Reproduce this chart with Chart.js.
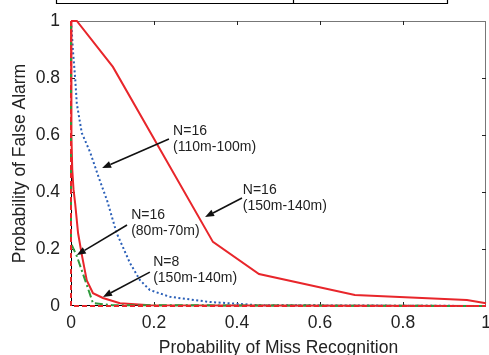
<!DOCTYPE html>
<html>
<head>
<meta charset="utf-8">
<title>Probability of False Alarm vs Miss Recognition</title>
<script src="https://cdn.jsdelivr.net/npm/chart.js@4.4.0/dist/chart.umd.min.js"></script>
<style>
  html, body { margin: 0; padding: 0; background: #fff; }
  #wrap { position: relative; width: 489px; height: 355px; overflow: hidden; }
</style>
</head>
<body>
<div id="wrap"><canvas id="roc" width="489" height="355"></canvas></div>
<script>
// tick values on both axes
var xTicks = [0, 0.2, 0.4, 0.6, 0.8, 1];
var yTicks = [0, 0.2, 0.4, 0.6, 0.8, 1];

// N=16 (150m-140m)  - red solid, outer curve
var n16far_x = [0, 0.014, 0.101, 0.342, 0.453, 0.684, 0.954, 1];
var n16far_y = [1, 1, 0.839, 0.225, 0.112, 0.039, 0.021, 0.01];

// N=16 (110m-100m)  - blue dotted
var n16mid_x = [0, 0.002, 0.005, 0.01, 0.014, 0.026, 0.046, 0.067, 0.087, 0.11, 0.142, 0.166, 0.19, 0.239, 0.335, 0.45, 1];
var n16mid_y = [1, 0.96, 0.89, 0.80, 0.71, 0.607, 0.54, 0.45, 0.37, 0.256, 0.151, 0.091, 0.056, 0.032, 0.014, 0.003, 0];

// N=8 (150m-140m)  - red solid, inner curve
var n8far_x = [0, 0.001, 0.003, 0.006, 0.01, 0.017, 0.026, 0.038, 0.053, 0.077, 0.118, 0.19, 1];
var n8far_y = [1, 0.6, 0.48, 0.41, 0.36, 0.256, 0.18, 0.09, 0.045, 0.028, 0.01, 0.003, 0];

// N=16 (80m-70m)  - green dash-dot
var n16near_x = [0, 0, 0.014, 0.034, 0.053, 0.1, 1];
var n16near_y = [1, 0.22, 0.175, 0.091, 0.01, 0.003, 0];

// ideal curve along the axes - red dashed
var ideal_x = [0, 0, 1];
var ideal_y = [1, 0, 0];

function pts(xs, ys) {
    return xs.map(function(x, i) { return { x: x, y: ys[i] }; });
}

// text notes with arrows (data coordinates)
var notes = [
    { text: ['N=16', '(110m-100m)'], at: [0.246, 0.614], from: [0.236, 0.586], to: [0.075, 0.484] },
    { text: ['N=16', '(150m-140m)'], at: [0.414, 0.407], from: [0.412, 0.379], to: [0.323, 0.312] },
    { text: ['N=16', '(80m-70m)'],   at: [0.145, 0.319], from: [0.135, 0.284], to: [0.014, 0.179] },
    { text: ['N=8', '(150m-140m)'],  at: [0.198, 0.154], from: [0.19, 0.119],  to: [0.077, 0.032] }
];

var RED = '#e8262b', BLUE = '#2a5fb8', GREEN = '#2f9a3c';
var FONT = "'Liberation Sans', Arial, Helvetica, sans-serif";

// matlab-like box, inward ticks and the cut-off box at the top edge
var framePlugin = {
    id: 'frame',
    beforeDatasetsDraw: function(chart) {
        var ctx = chart.ctx, a = chart.chartArea;
        var xs = chart.scales.x, ys = chart.scales.y;
        ctx.save();
        ctx.lineWidth = 1;
        ctx.strokeStyle = '#777';
        ctx.beginPath();
        ctx.moveTo(a.left, a.top + 0.5); ctx.lineTo(a.right, a.top + 0.5);
        ctx.moveTo(a.right - 0.5, a.top); ctx.lineTo(a.right - 0.5, a.bottom);
        ctx.stroke();
        ctx.strokeStyle = '#000';
        ctx.beginPath();
        ctx.moveTo(a.left + 0.5, a.top); ctx.lineTo(a.left + 0.5, a.bottom);
        ctx.moveTo(a.left, a.bottom - 0.5); ctx.lineTo(a.right, a.bottom - 0.5);
        ctx.stroke();
        ctx.strokeStyle = '#222';
        ctx.beginPath();
        xTicks.slice(1, -1).forEach(function(v) {
            var px = Math.round(xs.getPixelForValue(v)) + 0.5;
            ctx.moveTo(px, a.top); ctx.lineTo(px, a.top + 4);
            ctx.moveTo(px, a.bottom); ctx.lineTo(px, a.bottom - 4);
        });
        yTicks.slice(1, -1).forEach(function(v) {
            var py = Math.round(ys.getPixelForValue(v)) + 0.5;
            ctx.moveTo(a.left, py); ctx.lineTo(a.left + 4, py);
            ctx.moveTo(a.right, py); ctx.lineTo(a.right - 4, py);
        });
        ctx.stroke();
        // bottom of a box cropped off the top of the figure
        ctx.strokeStyle = '#000';
        ctx.lineWidth = 1.2;
        ctx.beginPath();
        ctx.moveTo(56.5, 0); ctx.lineTo(56.5, 3.5); ctx.lineTo(447.5, 3.5); ctx.lineTo(447.5, 0);
        ctx.moveTo(293.5, 0); ctx.lineTo(293.5, 3.5);
        ctx.stroke();
        ctx.restore();
    },
    afterDatasetsDraw: function(chart) {
        var ctx = chart.ctx;
        var xs = chart.scales.x, ys = chart.scales.y;
        ctx.save();
        ctx.fillStyle = '#222';
        ctx.strokeStyle = '#111';
        ctx.font = '14px ' + FONT;
        ctx.textBaseline = 'middle';
        ctx.textAlign = 'left';
        notes.forEach(function(n) {
            var tx = xs.getPixelForValue(n.at[0]), ty = ys.getPixelForValue(n.at[1]);
            n.text.forEach(function(t, i) { ctx.fillText(t, tx, ty + i * 16); });
            var x0 = xs.getPixelForValue(n.from[0]), y0 = ys.getPixelForValue(n.from[1]);
            var x1 = xs.getPixelForValue(n.to[0]), y1 = ys.getPixelForValue(n.to[1]);
            var ang = Math.atan2(y1 - y0, x1 - x0);
            var hl = 9, hw = 3.5;
            var bx = x1 - hl * Math.cos(ang), by = y1 - hl * Math.sin(ang);
            ctx.lineWidth = 1.6;
            ctx.beginPath();
            ctx.moveTo(x0, y0); ctx.lineTo(bx, by);
            ctx.stroke();
            ctx.beginPath();
            ctx.moveTo(x1, y1);
            ctx.lineTo(bx + hw * Math.sin(ang), by - hw * Math.cos(ang));
            ctx.lineTo(bx - hw * Math.sin(ang), by + hw * Math.cos(ang));
            ctx.closePath();
            ctx.fillStyle = '#111';
            ctx.fill();
            ctx.fillStyle = '#222';
        });
        ctx.restore();
    }
};

var ctx = document.getElementById('roc').getContext('2d');
var rocChart = new Chart(ctx, {
    type: 'scatter',
    data: {
        datasets: [
            { label: 'ideal', data: pts(ideal_x, ideal_y), borderColor: RED, borderWidth: 2, borderDash: [5, 3] },
            { label: 'N=16 (80m-70m)', data: pts(n16near_x, n16near_y), borderColor: GREEN, borderWidth: 2, borderDash: [8, 3, 2, 3] },
            { label: 'N=8 (150m-140m)', data: pts(n8far_x, n8far_y), borderColor: RED, borderWidth: 2 },
            { label: 'N=16 (110m-100m)', data: pts(n16mid_x, n16mid_y), borderColor: BLUE, borderWidth: 2, borderDash: [2, 2.5] },
            { label: 'N=16 (150m-140m)', data: pts(n16far_x, n16far_y), borderColor: RED, borderWidth: 2 }
        ]
    },
    options: {
        responsive: false,
        animation: false,
        devicePixelRatio: 1,
        showLine: true,
        elements: {
            point: { radius: 0, hoverRadius: 0 },
            line: { tension: 0, fill: false }
        },
        datasets: { scatter: { clip: false } },
        layout: { padding: { top: 21, right: 3, left: 0, bottom: 0 } },
        plugins: {
            legend: { display: false },
            tooltip: { enabled: false }
        },
        scales: {
            x: {
                type: 'linear', min: 0, max: 1,
                grid: { display: false, drawTicks: false },
                border: { display: false },
                afterBuildTicks: function(s) { s.ticks = xTicks.map(function(v) { return { value: v }; }); },
                ticks: {
                    padding: 7, color: '#222',
                    font: { family: FONT, size: 17.5 },
                    callback: function(v) { return String(v); }
                },
                title: {
                    display: true, text: 'Probability of Miss Recognition', color: '#222',
                    font: { family: FONT, size: 17.5, lineHeight: 1 },
                    padding: { top: 0, bottom: -2 }
                },
                afterFit: function(s) { s.height = 49; s.paddingLeft = 0; s.paddingRight = 0; }
            },
            y: {
                type: 'linear', min: 0, max: 1,
                grid: { display: false, drawTicks: false },
                border: { display: false },
                afterBuildTicks: function(s) { s.ticks = yTicks.map(function(v) { return { value: v }; }); },
                ticks: {
                    padding: 11, color: '#222',
                    font: { family: FONT, size: 17.5 },
                    callback: function(v) { return String(v); }
                },
                title: {
                    display: true, text: 'Probability of False Alarm', color: '#222',
                    font: { family: FONT, size: 17.5, lineHeight: 1 },
                    padding: { top: 11, bottom: 0 }
                },
                afterFit: function(s) { s.width = 71; s.paddingTop = 0; s.paddingBottom = 0; }
            }
        }
    },
    plugins: [framePlugin]
});
</script>
</body>
</html>
